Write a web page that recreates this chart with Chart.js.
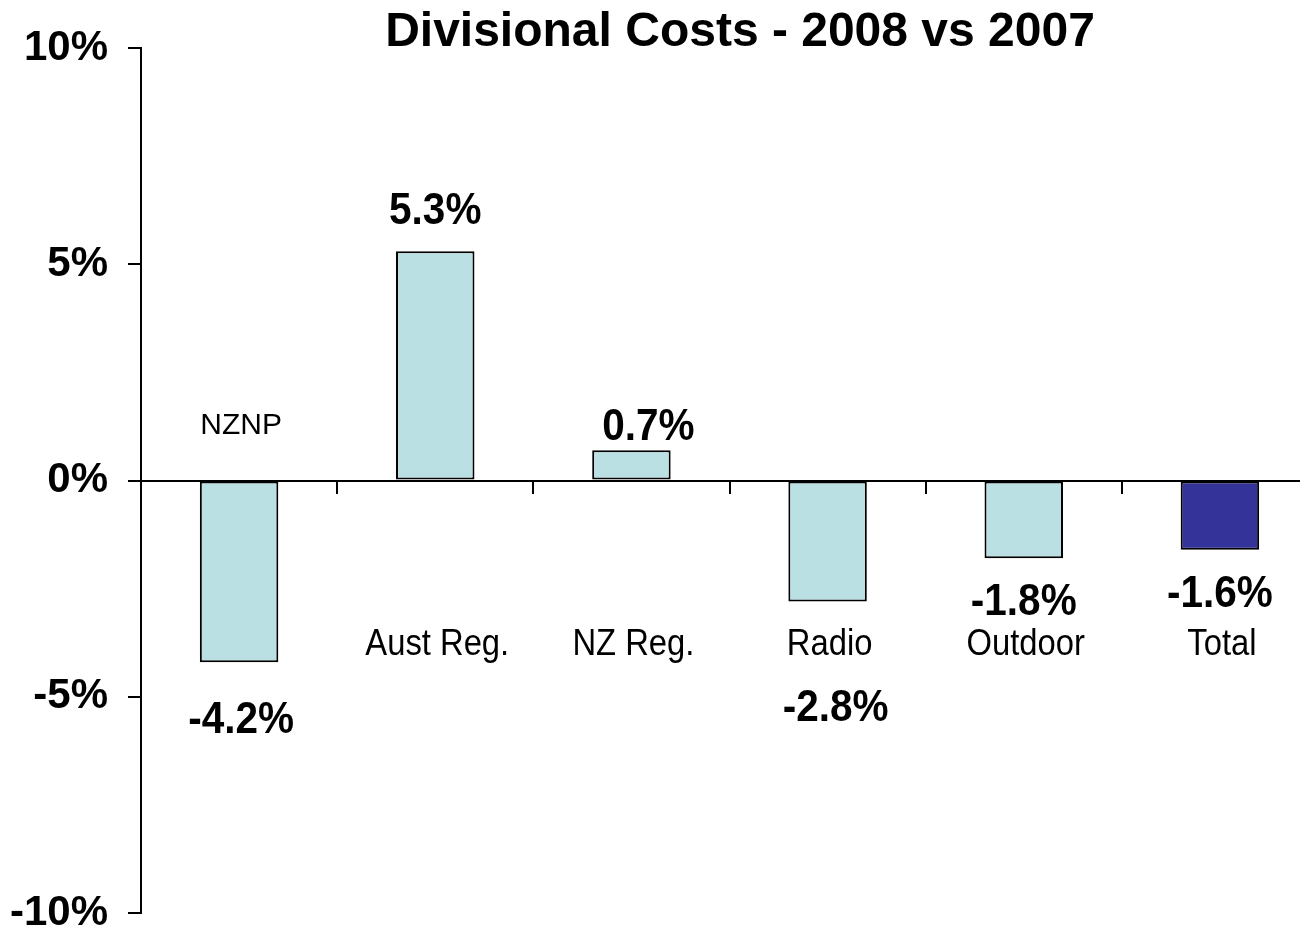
<!DOCTYPE html>
<html>
<head>
<meta charset="utf-8">
<title>Divisional Costs - 2008 vs 2007</title>
<script src="https://cdn.jsdelivr.net/npm/chart.js@4.4.1/dist/chart.umd.min.js"></script>
<style>
  html, body { margin: 0; padding: 0; background: #fff; overflow: hidden; }
  canvas { display: block; }
</style>
</head>
<body>
<canvas id="graficoCustos" width="1320" height="940"></canvas>
<script>
// dados
const categories = ["NZNP", "Aust Reg.", "NZ Reg.", "Radio", "Outdoor", "Total"];
const changes = [-4.2, 5.3, 0.7, -2.8, -1.8, -1.6];
const yTicks = [-10, -5, 0, 5, 10];

// estilo
const barColors = ["#bbe0e3", "#bbe0e3", "#bbe0e3", "#bbe0e3", "#bbe0e3", "#333399"];
const FONT = '"Liberation Sans", Arial, sans-serif';

// ajustes manuais das etiquetas (px a partir da ponta da barra)
const valueGap = [71, 27, 10, 119, 57, 57];
const valueDx = [2, 0, 17, 8, 0, 0];
const catAbove = [true, false, false, false, false, false];

function fmt(v) {
  return v.toFixed(1) + "%";
}

// texto levemente condensado na horizontal
function narrowText(ctx, txt, x, y, sx) {
  ctx.save();
  ctx.translate(x, y);
  ctx.scale(sx, 1);
  ctx.fillText(txt, 0, 0);
  ctx.restore();
}

const labelsPlugin = {
  id: "rotulos",
  afterDatasetsDraw(chart) {
    const ctx = chart.ctx;
    const meta = chart.getDatasetMeta(0);
    const yScale = chart.scales.y;
    const zero = yScale.getPixelForValue(0);

    ctx.save();
    ctx.fillStyle = "#000";
    ctx.textAlign = "center";
    ctx.textBaseline = "alphabetic";

    meta.data.forEach((bar, i) => {
      const v = changes[i];
      const end = yScale.getPixelForValue(v);

      // valor
      ctx.font = "bold 45px " + FONT;
      const vy = v >= 0 ? end - valueGap[i] : end + valueGap[i];
      narrowText(ctx, fmt(v), bar.x + valueDx[i], vy, 0.9);

      // categoria
      if (catAbove[i]) {
        ctx.font = "30px " + FONT;
        narrowText(ctx, categories[i], bar.x + 2, zero - 47, 1);
      } else {
        ctx.font = "36px " + FONT;
        narrowText(ctx, categories[i], bar.x + 2, zero + 174, 0.91);
      }
    });

    // título
    ctx.font = "bold 48px " + FONT;
    ctx.fillText("Divisional Costs - 2008 vs 2007", 740, 46);
    ctx.restore();
  }
};

const ctx = document.getElementById("graficoCustos").getContext("2d");
new Chart(ctx, {
  type: "bar",
  data: {
    labels: categories,
    datasets: [{
      label: "Divisional Costs",
      data: changes,
      backgroundColor: barColors,
      borderColor: "#000",
      borderWidth: 2,
      borderSkipped: false,
      barPercentage: 0.4,
      categoryPercentage: 1
    }]
  },
  options: {
    responsive: false,
    animation: false,
    layout: {
      padding: { left: 0, right: 2, top: 48, bottom: 27 }
    },
    scales: {
      x: {
        type: "category",
        position: { y: 0 },
        offset: true,
        afterFit: s => { s.height = 0; },
        grid: {
          offset: true,
          drawOnChartArea: false,
          drawTicks: true,
          tickLength: 12,
          color: "#000",
          lineWidth: 2
        },
        border: { display: true, color: "#000", width: 2 },
        ticks: { display: false }
      },
      y: {
        position: "left",
        min: -10,
        max: 10,
        afterBuildTicks: s => { s.ticks = yTicks.map(v => ({ value: v })); },
        afterFit: s => {
          s.width = 141;
          // os rótulos podem passar da borda; o corte fica por conta do canvas
          s.paddingTop = 0;
          s.paddingBottom = 0;
        },
        grid: {
          drawOnChartArea: false,
          drawTicks: true,
          tickLength: 13,
          color: "#000",
          lineWidth: 2
        },
        border: { display: true, color: "#000", width: 2 },
        ticks: {
          color: "#000",
          padding: 20,
          font: { family: FONT, size: 42, weight: "bold" },
          callback: v => v + "%"
        }
      }
    },
    plugins: {
      legend: { display: false },
      title: { display: false },
      tooltip: { enabled: false }
    }
  },
  plugins: [labelsPlugin]
});
</script>
</body>
</html>
